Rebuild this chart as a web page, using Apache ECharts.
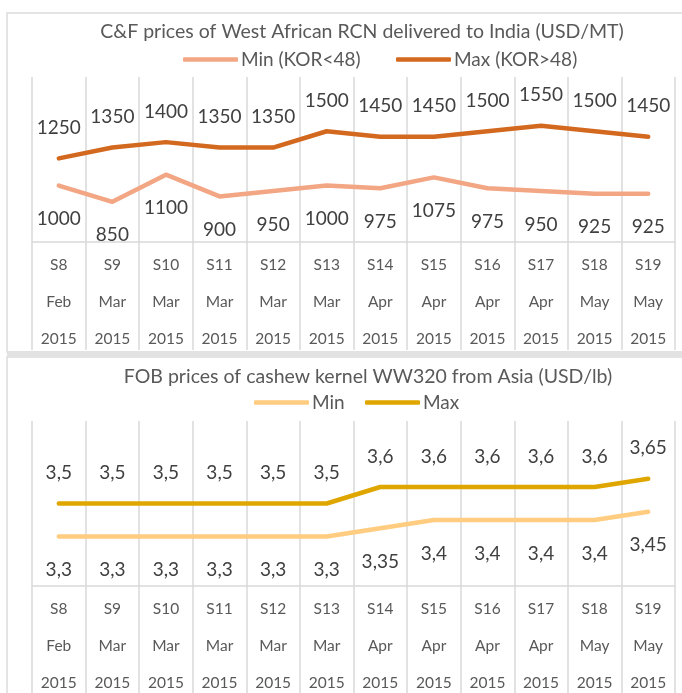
<!DOCTYPE html>
<html><head><meta charset="utf-8">
<script src="https://cdn.jsdelivr.net/npm/echarts@6/dist/echarts.min.js"></script>
<style>html,body{margin:0;padding:0;background:#fff}#c{width:682px;height:693px}</style>
</head><body><div id="c"></div>
<script>
const weeks = ['S8','S9','S10','S11','S12','S13','S14','S15','S16','S17','S18','S19'];
const months = ['Feb','Mar','Mar','Mar','Mar','Mar','Apr','Apr','Apr','Apr','May','May'];
const years = ['2015','2015','2015','2015','2015','2015','2015','2015','2015','2015','2015','2015'];
const rcnMin = [1000,850,1100,900,950,1000,975,1075,975,950,925,925];
const rcnMax = [1250,1350,1400,1350,1350,1500,1450,1450,1500,1550,1500,1450];
const kernelMin = [3.3,3.3,3.3,3.3,3.3,3.3,3.35,3.4,3.4,3.4,3.4,3.45];
const kernelMax = [3.5,3.5,3.5,3.5,3.5,3.5,3.6,3.6,3.6,3.6,3.6,3.65];
const title1 = 'C&F prices of West African RCN delivered to India (USD/MT)';
const title2 = 'FOB prices of cashew kernel WW320 from Asia (USD/lb)';

const FONT = 'Lato';
const GRID_C = '#d9d9d9';
const cats = weeks.map((w,i)=> w + '\n' + months[i] + '\n' + years[i]);

function xAxis(gi){
  return {
    type:'category', gridIndex:gi, data:cats, boundaryGap:true,
    axisLine:{show:true, lineStyle:{color:GRID_C, width:1.5}},
    axisTick:{show:true, length:108, lineStyle:{color:GRID_C, width:1.5}},
    splitLine:{show:true, lineStyle:{color:GRID_C, width:1.5}},
    axisLabel:{interval:0, margin:4, color:'#595959', fontFamily:FONT, fontSize:15.5, lineHeight:37, hideOverlap:false}
  };
}
function yAxis(gi,min,max){
  return {type:'value', gridIndex:gi, min:min, max:max, show:false, splitLine:{show:false}};
}
function ser(name, data, gi, color, pos, comma){
  return {
    name:name, type:'line', xAxisIndex:gi, yAxisIndex:gi, data:data,
    showSymbol:true, showAllSymbol:true, symbol:'circle', symbolSize:2, smooth:false, animation:false,
    lineStyle:{color:color, width:4.5, cap:'round', join:'round'},
    itemStyle:{color:color},
    emphasis:{disabled:true},
    label:{show:true, position:pos, distance:(pos === 'bottom' ? 23 : 20), color:'#404040', fontFamily:FONT, fontSize:19,
      formatter: p => comma ? String(p.value).replace('.', ',') : String(p.value)}
  };
}
function leg(name, left, top){
  return {data:[name], left:left, top:top, icon:'roundRect', itemWidth:55, itemHeight:4.5,
    itemGap:0, padding:0, textStyle:{color:'#595959', fontFamily:FONT, fontSize:19, padding:[0,0,0,-2]}};
}

const chart = echarts.init(document.getElementById('c'), null, {renderer:'canvas'});
chart.setOption({
  animation:false,
  backgroundColor:'#fff',
  grid:[
    {left:32, right:7, top:77, height:165, outerBoundsMode:'none', containLabel:false},
    {left:32, right:7, top:421, height:165, outerBoundsMode:'none', containLabel:false}
  ],
  xAxis:[xAxis(0), xAxis(1)],
  yAxis:[yAxis(0,480,2000), yAxis(1,3.0,4.0)],
  legend:[
    leg('Min (KOR<48)',183,50),
    leg('Max (KOR>48)',396,50),
    leg('Min',254,393),
    leg('Max',365,393)
  ],
  series:[
    ser('Min (KOR<48)', rcnMin, 0, '#F3A683', 'bottom', false),
    ser('Max (KOR>48)', rcnMax, 0, '#D2691F', 'top', false),
    ser('Min', kernelMin, 1, '#FFCC80', 'bottom', true),
    ser('Max', kernelMax, 1, '#E0A600', 'top', true)
  ],
  graphic:[
    {type:'rect', z:-1, silent:true, shape:{x:7,y:13,width:720,height:339}, style:{fill:null, stroke:'#dcdcdc', lineWidth:1.5}},
    {type:'rect', z:-1, silent:true, shape:{x:7,y:357,width:720,height:400}, style:{fill:null, stroke:'#dcdcdc', lineWidth:1.5}},
    {type:'rect', z:-1, silent:true, shape:{x:7,y:351,width:720,height:6}, style:{fill:'#e2e2e2'}},
    {type:'text', x:362, y:22, style:{text:title1, textAlign:'center', fill:'#595959', font:'19.5px '+FONT}},
    {type:'text', x:368, y:367, style:{text:title2, textAlign:'center', fill:'#595959', font:'19.5px '+FONT}}
  ]
});
</script></body></html>
